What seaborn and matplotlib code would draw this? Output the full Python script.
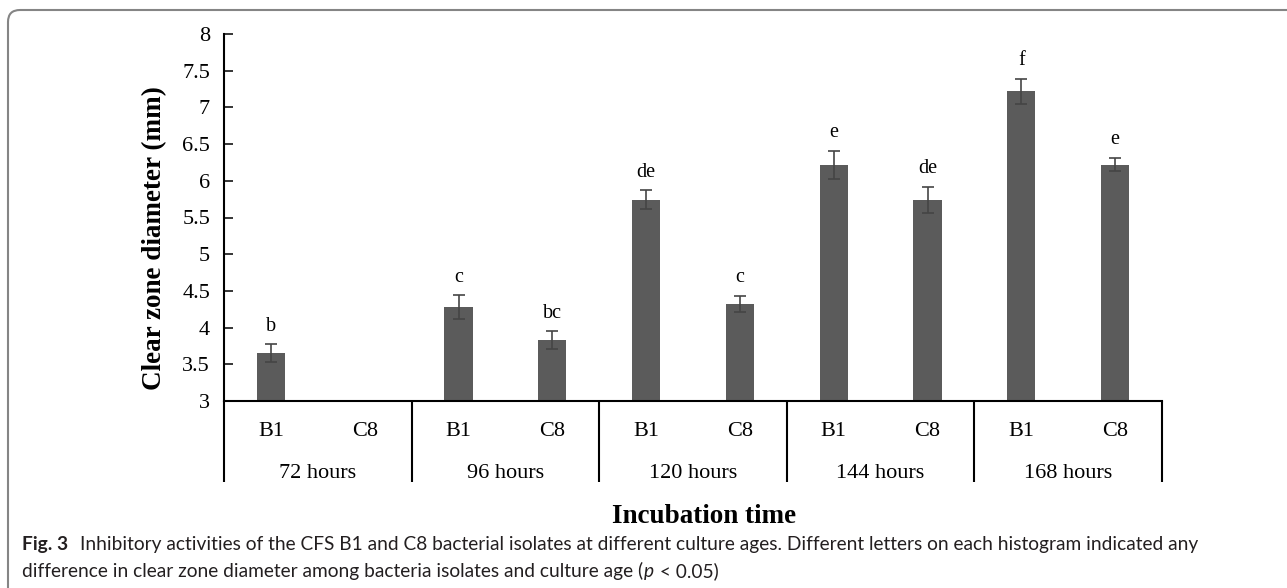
import numpy as np
import pandas as pd
import matplotlib
matplotlib.use("Agg")
import matplotlib.pyplot as plt
import matplotlib.transforms as mtransforms
from matplotlib.patches import FancyBboxPatch
import seaborn as sns

# ---- data -------------------------------------------------------------
times = ["72 hours", "96 hours", "120 hours", "144 hours", "168 hours"]
isolates = ["B1", "C8"]
b1_mean = [3.65, 4.28, 5.74, 6.22, 7.22]
b1_err = [0.12, 0.16, 0.13, 0.19, 0.17]
c8_mean = [np.nan, 3.83, 4.32, 5.74, 6.22]
c8_err = [np.nan, 0.12, 0.11, 0.18, 0.09]
b1_letters = ["b", "c", "de", "e", "f"]
c8_letters = ["", "bc", "c", "de", "e"]
y_ticks = [3, 3.5, 4, 4.5, 5, 5.5, 6, 6.5, 7, 7.5, 8]
y_tick_labels = ["3", "3.5", "4", "4.5", "5", "5.5", "6", "6.5", "7", "7.5", "8"]

caption_bold = "Fig. 3"
caption_line1 = ("Inhibitory activities of the CFS B1 and C8 bacterial isolates at different "
                 "culture ages. Different letters on each histogram indicated any")
caption_line2 = ["difference in clear zone diameter among bacteria isolates and culture age (",
                 "p", " < 0.05)"]

# ---- long table: one slot per (time, isolate) -------------------------
rows = []
order = []
for i, t in enumerate(times):
    for iso, m, e, lab in (("B1", b1_mean[i], b1_err[i], b1_letters[i]),
                           ("C8", c8_mean[i], c8_err[i], c8_letters[i])):
        slot = f"{t}|{iso}"
        order.append(slot)
        rows.append(dict(slot=slot, time=t, isolate=iso, value=m, err=e, letter=lab))
df = pd.DataFrame(rows)
df["pos"] = [order.index(s) for s in df["slot"]]
plot_df = df.dropna(subset=["value"])

# ---- style ------------------------------------------------------------
sns.set_theme(style="white")
plt.rcParams["font.family"] = ["Liberation Serif", "DejaVu Serif"]

W, H = 1287, 588
fig = plt.figure(figsize=(W / 100, H / 100), dpi=100)
fig.patch.set_facecolor("white")

# frame around the figure panel
frame = FancyBboxPatch((8, -30), 1320, H - 10 + 30,
                       boxstyle="round,pad=0,rounding_size=12",
                       transform=mtransforms.IdentityTransform(),
                       facecolor="none", edgecolor="#858585", linewidth=1.5,
                       zorder=0)
fig.patches.append(frame)

ax = fig.add_axes([224 / W, 1 - 401 / H, (1162 - 224) / W, (401 - 34) / H])

sns.barplot(data=plot_df, x="slot", y="value", order=order, color="#5b5b5b",
            saturation=1, width=0.3, errorbar=None, ax=ax)
for p in ax.patches:
    p.set_edgecolor("none")

ax.errorbar(plot_df["pos"], plot_df["value"], yerr=plot_df["err"], fmt="none",
            ecolor="#454545", elinewidth=1.2, capsize=4.5, capthick=1.2, zorder=5)

# significance letters above the error bars
for _, r in plot_df.iterrows():
    if r["letter"]:
        ax.annotate(r["letter"], (r["pos"], r["value"] + r["err"]),
                    xytext=(0, 13), textcoords="offset points",
                    ha="center", va="center", fontsize=14.5, color="black")

ax.set_xlim(-0.5, len(order) - 0.5)
ax.set_ylim(3, 8)
ax.set_yticks(y_ticks)
ax.set_yticklabels(y_tick_labels)
ax.tick_params(axis="y", direction="in", length=6.5, width=1.1, pad=10,
               labelsize=16, colors="black", left=True)
ax.set_xticks([])
ax.set_xlabel("")
ax.set_ylabel("Clear zone diameter (mm)", fontsize=19.5, fontweight="bold",
              color="black")
ax.yaxis.label.set_verticalalignment("center")
ax.yaxis.set_label_coords((155 - 224) / (1162 - 224), (401 - 238) / (401 - 34))

for side in ("top", "right"):
    ax.spines[side].set_visible(False)
for side in ("left", "bottom"):
    ax.spines[side].set_color("black")
    ax.spines[side].set_linewidth(1.5)

# two-level category axis: isolate under each bar, time under each pair
xt = ax.get_xaxis_transform()
for _, r in df.iterrows():
    ax.text(r["pos"], -0.0954, r["isolate"], transform=xt, ha="center",
            va="baseline", fontsize=16, color="black", clip_on=False)
for i, t in enumerate(times):
    centre = (order.index(f"{t}|B1") + order.index(f"{t}|C8")) / 2
    ax.text(centre, -0.2098, t, transform=xt, ha="center", va="baseline",
            fontsize=16, color="black", clip_on=False)
bounds = [-0.5] + [order.index(f"{t}|C8") + 0.5 for t in times]
ax.vlines(bounds, -0.2215, 0, transform=xt, colors="black", linewidth=1.5,
          clip_on=False)

fig.text(704 / W, 1 - 523 / H, "Incubation time", ha="center", va="baseline",
         fontsize=19.5, fontweight="bold", color="black")

# ---- caption ----------------------------------------------------------
renderer = fig.canvas.get_renderer()
ident = mtransforms.IdentityTransform()
cap_font = ["Lato", "DejaVu Sans"]
cap_color = "#231f20"


def draw_runs(x0, y_px, runs, size):
    arts = []
    x = x0
    for txt, weight, style, gap in runs:
        x += gap
        a = fig.text(x, H - y_px, txt, transform=ident, ha="left", va="baseline",
                     fontsize=size, fontweight=weight, fontstyle=style,
                     family=cap_font, color=cap_color)
        x = a.get_window_extent(renderer).x1
        arts.append(a)
    return arts, x


line1_runs = [(caption_bold, "bold", "normal", 0), (caption_line1, "normal", "normal", 12)]
line2_runs = [(caption_line2[0], "normal", "normal", 0),
              (caption_line2[1], "normal", "italic", 1),
              (caption_line2[2], "normal", "normal", 1)]

base = 13.0
arts, x_end = draw_runs(22, 550, line1_runs, base)
size = base * (1202 - 22) / (x_end - 22)
for a in arts:
    a.remove()
draw_runs(22, 550, line1_runs, size)
draw_runs(22, 577, line2_runs, size)

fig.savefig("out.png", dpi=100, facecolor="white")
